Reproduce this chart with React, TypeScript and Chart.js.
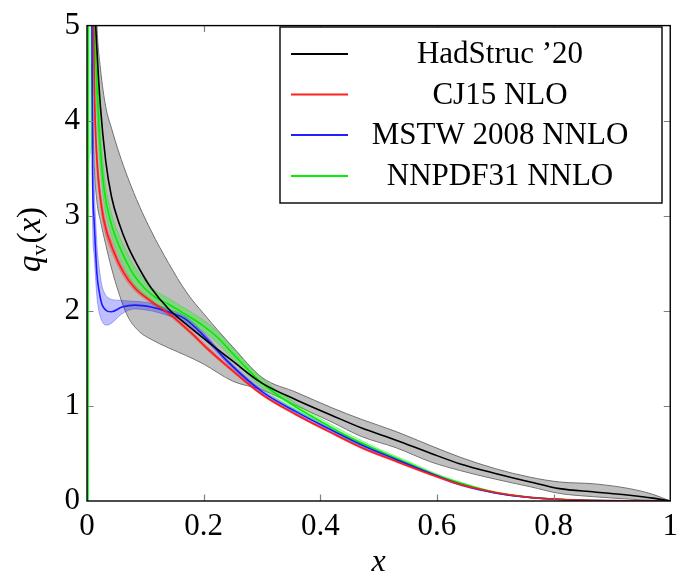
import React, { useEffect, useRef } from "react";
import { Chart, registerables } from "chart.js";

Chart.register(...registerables);

const FONT = "'Liberation Serif', 'DejaVu Serif', serif";

// ---- tick labels ----
const xTickValues = [0, 0.2, 0.4, 0.6, 0.8, 1];
const xTickLabels = ["0", "0.2", "0.4", "0.6", "0.8", "1"];
const yTickValues = [0, 1, 2, 3, 4, 5];
const yTickLabels = ["0", "1", "2", "3", "4", "5"];

// ---- legend ----
const seriesNames = ["HadStruc \u201920", "CJ15 NLO", "MSTW 2008 NNLO", "NNPDF31 NNLO"];
const seriesColors = ["#000000", "#ff2020", "#2020ff", "#00f000"];

// ---- HadStruc '20 ----
const hsX = [0.008, 0.012, 0.017, 0.023, 0.032, 0.042, 0.055, 0.07, 0.09, 0.11, 0.14, 0.17, 0.2, 0.25, 0.3, 0.36, 0.42, 0.47, 0.53, 0.59, 0.64, 0.7, 0.76, 0.81, 0.87, 0.93, 0.97, 1.0];
const hsMid = [6.2, 5.4, 4.75, 4.15, 3.58, 3.2, 2.92, 2.68, 2.44, 2.24, 2.02, 1.86, 1.71, 1.47, 1.24, 1.06, 0.9, 0.77, 0.64, 0.5, 0.39, 0.29, 0.2, 0.13, 0.095, 0.06, 0.03, 0.0];
const hsUp = [7.0, 6.0, 5.0, 4.55, 4.15, 3.92, 3.66, 3.4, 3.1, 2.84, 2.5, 2.2, 1.97, 1.62, 1.3, 1.14, 0.98, 0.86, 0.73, 0.58, 0.46, 0.34, 0.25, 0.2, 0.18, 0.13, 0.07, 0.0];
const hsLow = [4.6, 3.6, 3.15, 2.95, 2.7, 2.45, 2.18, 1.94, 1.78, 1.7, 1.61, 1.53, 1.44, 1.26, 1.17, 1.0, 0.83, 0.68, 0.56, 0.41, 0.32, 0.23, 0.15, 0.08, 0.045, 0.02, 0.005, 0.0];

// ---- CJ15 NLO ----
const cjX = [0.011, 0.012, 0.014, 0.017, 0.02, 0.029, 0.046, 0.063, 0.082, 0.11, 0.145, 0.18, 0.207, 0.244, 0.3, 0.358, 0.415, 0.471, 0.529, 0.585, 0.642, 0.7, 0.756, 0.813, 0.87, 0.93, 1.0];
const cjMid = [5.4, 4.6, 4.0, 3.6, 3.35, 2.95, 2.62, 2.4, 2.24, 2.1, 1.95, 1.76, 1.6, 1.4, 1.12, 0.91, 0.73, 0.56, 0.42, 0.29, 0.17, 0.09, 0.04, 0.015, 0.005, 0.001, 0.0];
const cjUp = [5.6, 4.78, 4.14, 3.71, 3.44, 3.02, 2.67, 2.44, 2.27, 2.12, 1.97, 1.78, 1.62, 1.415, 1.13, 0.92, 0.74, 0.57, 0.43, 0.3, 0.18, 0.095, 0.044, 0.017, 0.006, 0.002, 0.0];
const cjLow = [5.2, 4.42, 3.86, 3.49, 3.26, 2.88, 2.57, 2.36, 2.21, 2.08, 1.93, 1.74, 1.58, 1.385, 1.11, 0.9, 0.72, 0.55, 0.41, 0.28, 0.16, 0.085, 0.036, 0.013, 0.004, 0.0, 0.0];

// ---- MSTW 2008 NNLO ----
const mwX = [0.006, 0.0085, 0.0095, 0.012, 0.017, 0.021, 0.025, 0.029, 0.034, 0.042, 0.06, 0.082, 0.11, 0.139, 0.167, 0.2, 0.244, 0.3, 0.358, 0.415, 0.471, 0.529, 0.585, 0.642, 0.7, 0.756, 0.813, 0.87, 0.93, 1.0];
const mwMid = [7.0, 5.0, 3.5, 2.97, 2.39, 2.2, 2.08, 2.03, 2.0, 1.99, 2.04, 2.06, 2.04, 1.99, 1.92, 1.74, 1.45, 1.15, 0.94, 0.76, 0.59, 0.44, 0.3, 0.17, 0.085, 0.04, 0.015, 0.005, 0.001, 0.0];
const mwUp = [7.5, 5.6, 4.1, 3.4, 2.7, 2.45, 2.28, 2.2, 2.15, 2.12, 2.11, 2.1, 2.08, 2.02, 1.95, 1.77, 1.47, 1.17, 0.96, 0.78, 0.61, 0.455, 0.31, 0.18, 0.09, 0.045, 0.018, 0.007, 0.002, 0.0];
const mwLow = [6.5, 4.5, 3.0, 2.6, 2.15, 1.98, 1.9, 1.86, 1.85, 1.87, 1.97, 2.02, 2.0, 1.95, 1.89, 1.71, 1.43, 1.13, 0.92, 0.74, 0.57, 0.425, 0.29, 0.16, 0.08, 0.035, 0.012, 0.003, 0.0, 0.0];

// ---- NNPDF31 NNLO ----
const nnX = [0.0015, 0.0025, 0.004, 0.007, 0.01, 0.013, 0.016, 0.02, 0.023, 0.03, 0.04, 0.05, 0.065, 0.08, 0.1, 0.12, 0.14, 0.167, 0.2, 0.224, 0.25, 0.3, 0.35, 0.4, 0.45, 0.5, 0.55, 0.6, 0.65, 0.7, 0.75, 0.8, 0.85, 0.9, 0.95, 1.0];
const nnMid = [0.0, 12.0, 9.0, 7.0, 5.8, 5.0, 4.5, 4.0, 3.7, 3.25, 2.95, 2.76, 2.55, 2.38, 2.23, 2.13, 2.07, 1.97, 1.84, 1.72, 1.55, 1.24, 1.02, 0.84, 0.67, 0.53, 0.4, 0.27, 0.17, 0.09, 0.045, 0.02, 0.008, 0.003, 0.001, 0.0];
const nnUp = [0.0, 13.0, 10.0, 7.8, 6.4, 5.45, 4.85, 4.27, 3.9, 3.4, 3.07, 2.87, 2.66, 2.48, 2.31, 2.2, 2.13, 2.03, 1.9, 1.78, 1.61, 1.29, 1.06, 0.87, 0.7, 0.55, 0.42, 0.285, 0.18, 0.097, 0.05, 0.024, 0.01, 0.004, 0.0015, 0.0];
const nnLow = [0.0, 3.2, 3.6, 3.7, 4.0, 4.5, 4.2, 3.75, 3.5, 3.1, 2.83, 2.65, 2.44, 2.28, 2.15, 2.06, 2.01, 1.91, 1.78, 1.66, 1.49, 1.19, 0.98, 0.81, 0.64, 0.51, 0.38, 0.255, 0.16, 0.083, 0.04, 0.016, 0.006, 0.002, 0.0005, 0.0];

const pts = (xs: number[], ys: number[]) => xs.map((x, i) => ({ x, y: ys[i] }));

const decorPlugin = {
  id: "decor",
  afterDraw(chart: any) {
    const { ctx, chartArea: a, scales } = chart;
    const xs = scales.x;
    const ys = scales.y;
    ctx.save();
    // inward ticks
    ctx.strokeStyle = "#808080";
    ctx.lineWidth = 1.2;
    const tl = 6.5;
    xTickValues.slice(1, -1).forEach((v) => {
      const px = Math.round(xs.getPixelForValue(v)) + 0.5;
      ctx.beginPath();
      ctx.moveTo(px, a.bottom);
      ctx.lineTo(px, a.bottom - tl);
      ctx.moveTo(px, a.top);
      ctx.lineTo(px, a.top + tl);
      ctx.stroke();
    });
    yTickValues.slice(1, -1).forEach((v) => {
      const py = Math.round(ys.getPixelForValue(v)) + 0.5;
      ctx.beginPath();
      ctx.moveTo(a.left, py);
      ctx.lineTo(a.left + tl, py);
      ctx.moveTo(a.right, py);
      ctx.lineTo(a.right - tl, py);
      ctx.stroke();
    });
    // frame
    ctx.strokeStyle = "#000";
    ctx.lineWidth = 1.4;
    ctx.strokeRect(a.left, a.top, a.right - a.left, a.bottom - a.top);

    // x title
    ctx.fillStyle = "#000";
    ctx.font = `italic 32px ${FONT}`;
    ctx.textAlign = "center";
    ctx.textBaseline = "alphabetic";
    ctx.fillText("x", (a.left + a.right) / 2, 571);

    // y title q_v(x), rotated
    ctx.save();
    ctx.translate(40, 240);
    ctx.rotate(-Math.PI / 2);
    const parts = [
      { t: "q", f: `italic 33px ${FONT}`, dy: 0 },
      { t: "v", f: `22px ${FONT}`, dy: 6 },
      { t: "(", f: `33px ${FONT}`, dy: 0 },
      { t: "x", f: `italic 33px ${FONT}`, dy: 0 },
      { t: ")", f: `33px ${FONT}`, dy: 0 },
    ];
    let total = 0;
    parts.forEach((p) => {
      ctx.font = p.f;
      total += ctx.measureText(p.t).width;
    });
    let cx = -total / 2;
    ctx.textAlign = "left";
    parts.forEach((p) => {
      ctx.font = p.f;
      ctx.fillText(p.t, cx, p.dy);
      cx += ctx.measureText(p.t).width + (p.t === "v" ? 1 : 0);
    });
    ctx.restore();

    // legend
    const lx = 280, ly = 27, lw = 382, lh = 176;
    ctx.fillStyle = "#fff";
    ctx.fillRect(lx, ly, lw, lh);
    ctx.strokeStyle = "#000";
    ctx.lineWidth = 1.4;
    ctx.strokeRect(lx, ly, lw, lh);
    const rows = [54, 94.5, 135, 176];
    ctx.font = `31px ${FONT}`;
    ctx.textAlign = "center";
    ctx.textBaseline = "middle";
    seriesNames.forEach((name, i) => {
      ctx.strokeStyle = seriesColors[i];
      ctx.lineWidth = 1.8;
      ctx.beginPath();
      ctx.moveTo(291, rows[i]);
      ctx.lineTo(348, rows[i]);
      ctx.stroke();
      ctx.fillStyle = "#000";
      ctx.fillText(name, 500, rows[i] + 1);
    });
    ctx.restore();
  },
};

export default function App() {
  const ref = useRef<HTMLCanvasElement | null>(null);
  useEffect(() => {
    if (!ref.current) return;
    const line = (data: any, color: string, width: number, extra: any = {}) => ({
      data,
      borderColor: color,
      borderWidth: width,
      pointRadius: 0,
      fill: false,
      cubicInterpolationMode: "monotone",
      ...extra,
    });
    const chart = new Chart(ref.current, {
      type: "line",
      data: {
        datasets: [
          line(pts(hsX, hsMid), "#000000", 1.6),
          line(pts(cjX, cjMid), "#ff1a1a", 1.6),
          line(pts(mwX, mwMid), "#1a1aff", 1.6),
          line(pts(nnX, nnMid), "#00ee00", 1.6),
          line(pts(nnX, nnUp), "rgba(0,220,0,0.35)", 1, { fill: "+1", backgroundColor: "rgba(0,255,0,0.3)" }),
          line(pts(nnX, nnLow), "rgba(0,220,0,0.35)", 1),
          line(pts(mwX, mwUp), "rgba(60,60,255,0.4)", 1, { fill: "+1", backgroundColor: "rgba(0,0,255,0.25)" }),
          line(pts(mwX, mwLow), "rgba(60,60,255,0.4)", 1),
          line(pts(cjX, cjUp), "rgba(255,60,60,0.4)", 1, { fill: "+1", backgroundColor: "rgba(255,0,0,0.25)" }),
          line(pts(cjX, cjLow), "rgba(255,60,60,0.4)", 1),
          line(pts(hsX, hsUp), "#707070", 1, { fill: "+1", backgroundColor: "rgba(128,128,128,0.5)" }),
          line(pts(hsX, hsLow), "#707070", 1),
        ],
      },
      options: {
        animation: false,
        responsive: false,
        devicePixelRatio: 1,
        layout: { padding: { top: 17, right: 12, left: 0, bottom: 0 } },
        plugins: { legend: { display: false }, tooltip: { enabled: false } },
        scales: {
          x: {
            type: "linear",
            min: 0,
            max: 1,
            grid: { display: false, drawTicks: false },
            border: { display: false },
            afterBuildTicks: (s: any) => {
              s.ticks = xTickValues.map((v) => ({ value: v }));
            },
            afterFit: (s: any) => {
              s.height = 79;
            },
            ticks: {
              padding: 7,
              color: "#000",
              maxRotation: 0,
              font: { family: FONT, size: 31 },
              callback: (_v: any, i: number) => xTickLabels[i],
            },
          },
          y: {
            type: "linear",
            min: 0,
            max: 5,
            grid: { display: false, drawTicks: false },
            border: { display: false },
            afterBuildTicks: (s: any) => {
              s.ticks = yTickValues.map((v) => ({ value: v }));
            },
            afterFit: (s: any) => {
              s.width = 87;
            },
            ticks: {
              padding: 7,
              color: "#000",
              font: { family: FONT, size: 31 },
              callback: (_v: any, i: number) => yTickLabels[i],
            },
          },
        },
      },
      plugins: [decorPlugin],
    } as any);
    return () => chart.destroy();
  }, []);
  return (
    <div style={{ position: "absolute", left: 0, top: 0, width: 685, height: 580, background: "#fff" }}>
      <canvas ref={ref} width={685} height={580} style={{ display: "block", width: 685, height: 580 }} />
    </div>
  );
}
